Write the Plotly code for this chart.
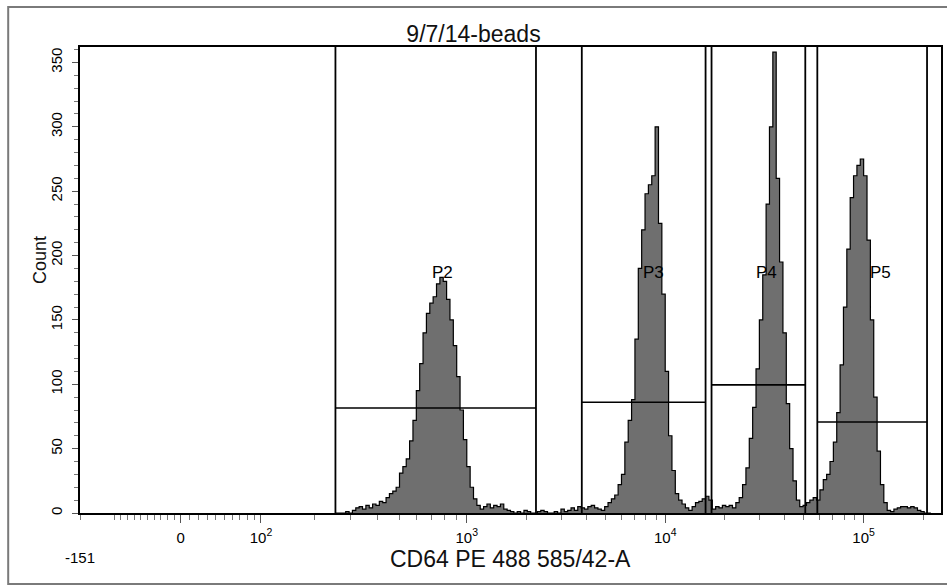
import numpy as np
import plotly.graph_objects as go

# ---------------- data ----------------
# histogram in display channels (0..1024), bins of 4 channels starting at channel 304
bin_start = 304
bin_width = 4
counts = [
    0, 0, 0, 1, 0, 2, 4, 5, 3, 6,
    4, 7, 6, 9, 8, 12, 15, 17, 20, 31,
    36, 42, 56, 72, 95, 116, 140, 155, 163, 168,
    178, 183, 180, 166, 150, 130, 106, 80, 57, 36,
    20, 11, 6, 3, 5, 7, 4, 6, 5, 7,
    3, 2, 1, 0, 1, 0, 2, 1, 0, 0,
    1, 2, 1, 0, 0, 1, 0, 3, 1, 2,
    4, 2, 5, 4, 3, 5, 6, 4, 3, 2,
    5, 8, 11, 14, 22, 30, 55, 72, 88, 135,
    190, 220, 248, 255, 262, 300, 225, 170, 110, 60,
    33, 15, 10, 7, 4, 2, 5, 8, 9, 11,
    13, 10, 3, 5, 4, 6, 5, 6, 4, 8,
    12, 22, 35, 58, 82, 112, 150, 185, 240, 300,
    358, 260, 195, 140, 85, 50, 25, 10, 5, 6,
    8, 10, 12, 10, 18, 26, 30, 40, 55, 78,
    115, 160, 205, 245, 262, 270, 275, 262, 212, 150,
    90, 48, 22, 8, 2, 1, 3, 4, 5, 5,
    4, 5, 4, 2, 1, 0, 0,
]

# gates (channels) and horizontal gate levels (counts)
gate_names = ["P2", "P3", "P4", "P5"]
gate_left = [303.8, 596.8, 751.1, 876.9]
gate_right = [542.3, 744.0, 862.6, 1007.4]
gate_level = [81.6, 86.0, 99.5, 70.7]
label_x = [430.7, 682.0, 816.0, 951.6]
label_y = [187, 187, 187, 187]

# axis ticks (fluorescence values)
major_vals = [0, 100, 1000, 10000, 100000]
major_text = ["0", "10<sup>2</sup>", "10<sup>3</sup>", "10<sup>4</sup>", "10<sup>5</sup>"]
axis_min_val = -151
minor_vals = ([-151, -100, -90, -80, -70, -60, -50, -40, -30, -20, -10]
              + [10, 20, 30, 40, 50, 60, 70, 80, 90]
              + [200, 300, 400, 500, 600, 700, 800, 900]
              + [2000, 3000, 4000, 5000, 6000, 7000, 8000, 9000]
              + [20000, 30000, 40000, 50000, 60000, 70000, 80000, 90000]
              + [200000])


def to_channel(v):
    """Biexponential-like display transform (value -> channel 0..1024)."""
    v = float(v)
    if v >= 1000:
        return 460 + 236 * np.log10(v / 1000)
    if v >= 0:
        return 119.8 + 117 * np.arcsinh(v / 110)
    return 119.8 * (1 + v / 151)


# ---------------- figure ----------------
edges = [bin_start + bin_width * i for i in range(len(counts) + 1)]
ys = counts + [counts[-1]]

fig = go.Figure()
fig.add_trace(go.Scatter(
    x=edges, y=ys, mode="lines", line_shape="hv",
    line=dict(color="black", width=1.2),
    fill="tozeroy", fillcolor="#6f6f6f", hoverinfo="skip", showlegend=False,
))

shapes = []
for gl, gr, lv in zip(gate_left, gate_right, gate_level):
    for gx in (gl, gr):
        shapes.append(dict(type="line", xref="x", yref="y domain", x0=gx, x1=gx, y0=0, y1=1,
                           line=dict(color="black", width=1.8)))
    shapes.append(dict(type="line", xref="x", yref="y", x0=gl, x1=gr, y0=lv, y1=lv,
                       line=dict(color="black", width=1.6)))
# outer frame
shapes.append(dict(type="rect", xref="paper", yref="paper", x0=-0.0834, x1=1.01, y0=-0.1524, y1=1.0858,
                   line=dict(color="#7a7a7a", width=2), fillcolor="rgba(0,0,0,0)", layer="below"))

annotations = []
for nm, lx, ly in zip(gate_names, label_x, label_y):
    annotations.append(dict(x=lx, y=ly, xref="x", yref="y", text=nm, showarrow=False,
                            font=dict(size=17, color="black", family="Liberation Sans")))
annotations.append(dict(x=to_channel(axis_min_val), y=-0.072, xref="x", yref="paper", text=str(axis_min_val),
                        showarrow=False, yanchor="top",
                        font=dict(size=15, color="black", family="Liberation Sans")))
# x-axis title
annotations.append(dict(x=0.5, xref="paper", y=(513 - 559) / 466, yref="paper", yanchor="middle",
                        text="CD64 PE 488 585/42-A", showarrow=False,
                        font=dict(size=23, color="#111", family="Liberation Sans")))
# y-axis title
annotations.append(dict(x=(40 - 80) / 863, xref="paper", y=(513 - 260) / 466, yref="paper",
                        xanchor="center", yanchor="middle", textangle=-90,
                        text="Count", showarrow=False,
                        font=dict(size=18, color="#111", family="Liberation Sans")))

fig.update_layout(
    width=947, height=586,
    margin=dict(l=80, r=4, t=47, b=73),
    paper_bgcolor="white", plot_bgcolor="white",
    shapes=shapes, annotations=annotations,
    title=dict(text="9/7/14-beads", x=0.5, xref="container", xanchor="center",
               y=(586 - 34) / 586, yref="container", yanchor="middle",
               font=dict(size=23, color="#111", family="Liberation Sans")),
    font=dict(family="Liberation Sans", color="#111"),
)

fig.update_xaxes(
    range=[0, 1024], showline=True, linecolor="black", linewidth=1.5, mirror=True,
    showgrid=False, zeroline=False,
    tickmode="array", tickvals=[to_channel(v) for v in major_vals], ticktext=major_text,
    ticks="outside", ticklen=8, tickcolor="#555", tickwidth=1,
    ticklabelstandoff=2,
    tickfont=dict(size=15, color="black"),
    minor=dict(tickmode="array", tickvals=[to_channel(v) for v in minor_vals],
               ticks="outside", ticklen=5, tickcolor="#777", tickwidth=1),
)
fig.update_yaxes(
    range=[0, 362], showline=True, linecolor="black", linewidth=1.5, mirror=True,
    showgrid=False, zeroline=False,
    tickmode="linear", tick0=0, dtick=50,
    ticks="outside", ticklen=6, tickcolor="#555", tickwidth=1,
    tickangle=-90, ticklabelstandoff=4,
    tickfont=dict(size=15, color="black"),
    minor=dict(dtick=10, ticks="outside", ticklen=4, tickcolor="#777", tickwidth=1),
)

fig.write_html("out.html")
